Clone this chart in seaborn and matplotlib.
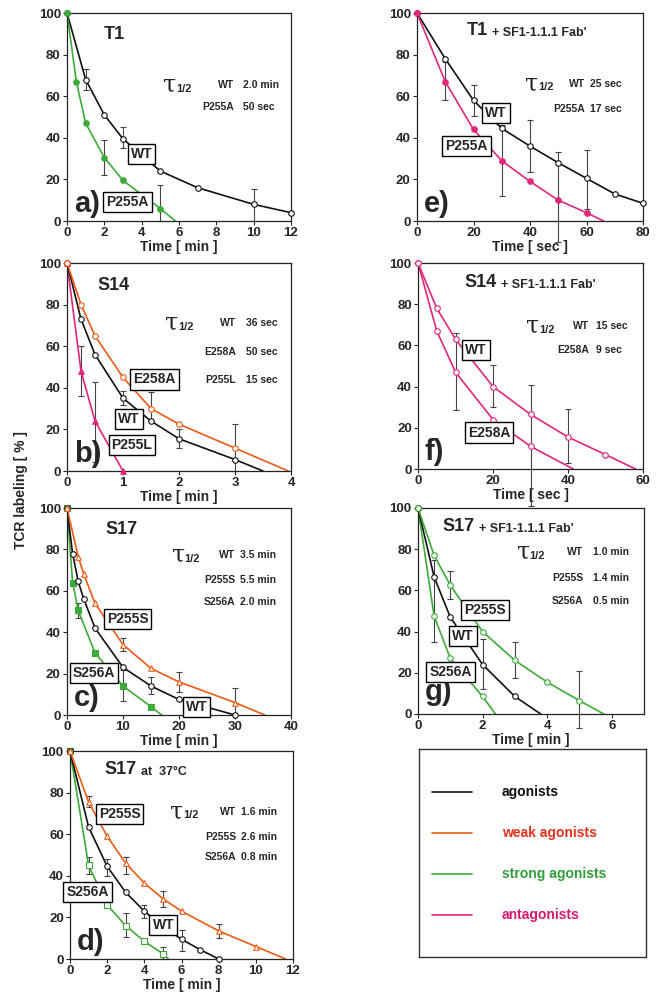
import numpy as np
import matplotlib
matplotlib.use('Agg')
import matplotlib.pyplot as plt
import seaborn as sns

sns.set_style('ticks')
plt.rcParams['font.family'] = ['Liberation Sans', 'DejaVu Sans']
plt.rcParams['font.weight'] = 'bold'

# colours
BLACK = '#111111'
ORANGE = '#ee5a14'
GREEN = '#3daa3a'
MAGENTA = '#e2267a'

# a) T1
a_wt_t = [0, 1, 2, 3, 5, 7, 10, 12]
a_wt_y = [100, 68, 51, 39.5, 24, 16, 8, 4]
a_p255a_t = [0, 0.5, 1, 2, 3, 5]
a_p255a_y = [100, 67, 47, 30.5, 19.5, 6]
a_p255a_end = 5.8
a_err_t = [1, 2, 3, 5, 10]
a_err_lo = [63, 22, 35, 0, 0]
a_err_hi = [73, 39, 45, 17.5, 15.5]
a_tau_names = ['WT', 'P255A']
a_tau_vals = ['2.0 min', '50 sec']

# b) S14
b_wt_t = [0, 0.25, 0.5, 1, 1.5, 2, 3]
b_wt_y = [100, 73, 56, 35, 24, 15.5, 5.5]
b_wt_end = 3.5
b_e258a_t = [0, 0.25, 0.5, 1, 1.5, 2, 3]
b_e258a_y = [100, 80, 65, 45, 30, 22.5, 11]
b_e258a_end = 3.95
b_p255l_t = [0, 0.25, 0.5, 1]
b_p255l_y = [100, 48, 24, 0]
b_err_t = [0.25, 0.5, 1, 1.5, 2, 3]
b_err_lo = [36, 4.5, 31.5, 24, 11, 0]
b_err_hi = [60, 43, 38.5, 38, 20, 22.5]
b_tau_names = ['WT', 'E258A', 'P255L']
b_tau_vals = ['36 sec', '50 sec', '15 sec']

# c) S17
c_wt_t = [0, 1, 2, 3, 5, 10, 15, 20, 30]
c_wt_y = [100, 78, 64.5, 56, 42, 23, 14, 7.5, 0]
c_p255s_t = [0, 2, 3, 5, 10, 15, 20, 30]
c_p255s_y = [100, 76.5, 68, 54, 34, 22.5, 16, 6]
c_p255s_end = 35.3
c_s256a_t = [0, 1, 2, 5, 10, 15]
c_s256a_y = [100, 64, 50.5, 30, 14, 4]
c_s256a_end = 16.9
c_err_t = [2, 10, 10, 15, 20, 30]
c_err_lo = [47, 31, 7, 10, 11, 0]
c_err_hi = [54, 37, 21.5, 18.5, 21, 13]
c_tau_names = ['WT', 'P255S', 'S256A']
c_tau_vals = ['3.5 min', '5.5 min', '2.0 min']

# d) S17 at 37C
d_wt_t = [0, 1, 2, 3, 4, 5, 6, 7, 8]
d_wt_y = [100, 63.5, 44.5, 32, 23, 15.5, 9.5, 4.5, 0]
d_p255s_t = [0, 1, 2, 3, 4, 5, 6, 8, 10]
d_p255s_y = [100, 75.5, 59, 46, 36.5, 29, 23, 13.5, 6]
d_p255s_end = 11.6
d_s256a_t = [0, 1, 2, 3, 4, 5]
d_s256a_y = [100, 45, 26, 16, 8.5, 2.5]
d_s256a_end = 5.3
d_err_t = [1, 1, 2, 3, 3, 4, 5, 5, 6, 8]
d_err_lo = [73, 41, 40, 41, 10.5, 19.5, 25, 0, 4, 10]
d_err_hi = [78.5, 49, 48, 49, 22, 26, 32.5, 6, 14, 17]
d_tau_names = ['WT', 'P255S', 'S256A']
d_tau_vals = ['1.6 min', '2.6 min', '0.8 min']

# e) T1 + Fab'
e_wt_t = [0, 10, 20, 30, 40, 50, 60, 70, 80]
e_wt_y = [100, 78, 58, 44.5, 36, 28, 20.5, 13, 8.5]
e_p255a_t = [0, 10, 20, 30, 40, 50, 60]
e_p255a_y = [100, 67, 44, 29, 19, 10, 4]
e_p255a_end = 66
e_err_t = [10, 20, 30, 40, 50, 60]
e_err_lo = [58, 50.5, 12, 23.5, -10, 6]
e_err_hi = [76.5, 65.5, 46, 48.5, 33, 34]
e_tau_names = ['WT', 'P255A']
e_tau_vals = ['25 sec', '17 sec']

# f) S14 + Fab'
f_wt_t = [0, 5, 10, 20, 30, 40, 50]
f_wt_y = [100, 78, 63, 40, 26.5, 15.5, 7]
f_wt_end = 58
f_e258a_t = [0, 5, 10, 20, 30]
f_e258a_y = [100, 67, 47, 24, 11]
f_e258a_end = 41.4
f_err_t = [10, 20, 30, 40]
f_err_lo = [28.5, 30, -18, 3]
f_err_hi = [66, 50.5, 41, 29]
f_tau_names = ['WT', 'E258A']
f_tau_vals = ['15 sec', '9 sec']

# g) S17 + Fab'
g_wt_t = [0, 0.5, 1, 2, 3]
g_wt_y = [100, 66.5, 47, 24, 8.5]
g_wt_end = 3.8
g_p255s_t = [0, 0.5, 1, 2, 3, 4, 5]
g_p255s_y = [100, 77, 62.5, 40, 26, 15.5, 6.5]
g_p255s_end = 5.75
g_s256a_t = [0, 0.5, 1, 2]
g_s256a_y = [100, 47.5, 27, 8.5]
g_s256a_end = 2.4
g_err_t = [0.5, 1, 2, 3, 5]
g_err_lo = [35, 56, 12, 17.5, -7]
g_err_hi = [75, 69.5, 36.5, 35, 21]
g_tau_names = ['WT', 'P255S', 'S256A']
g_tau_vals = ['1.0 min', '1.4 min', '0.5 min']

legend_labels = ['agonists', 'weak agonists', 'strong agonists', 'antagonists']
legend_colors = [BLACK, ORANGE, GREEN, MAGENTA]
legend_text_colors = [BLACK, '#e6321a', '#2f9e3a', '#d8186e']

fig = plt.figure(figsize=(6.6, 9.92), dpi=100)


def add_ax(l, t, r, b):
    return fig.add_axes([l / 660, 1 - b / 992, (r - l) / 660, (b - t) / 992])


def curve(ax, t, y, end, color, marker, filled):
    xs = list(t) + ([end] if end is not None else [])
    ys = list(y) + ([0] if end is not None else [])
    sns.lineplot(x=xs, y=ys, ax=ax, color=color, lw=1.2, estimator=None,
                 sort=False, legend=False, zorder=2)
    sns.scatterplot(x=t, y=y, ax=ax, marker=marker, s=16,
                    facecolor=color if filled else 'white', edgecolor=color,
                    linewidth=0.8, zorder=3, clip_on=False, legend=False)


def errbars(ax, t, lo, hi):
    lo, hi = np.array(lo, float), np.array(hi, float)
    eb = ax.errorbar(t, (lo + hi) / 2, yerr=(hi - lo) / 2, fmt='none',
                     ecolor='#444444', elinewidth=0.8, capsize=2,
                     capthick=0.8, zorder=1)
    for art in list(eb.lines[1]) + list(eb.lines[2]):
        art.set_clip_on(False)


def style(ax, xmax, xstep, xlabel):
    ax.set_xlim(0, xmax)
    ax.set_ylim(0, 100)
    ax.set_xticks(np.arange(0, xmax + 0.01, xstep))
    ax.set_yticks(range(0, 101, 20))
    ax.tick_params(labelsize=9.5, length=3, width=0.8, pad=1.5)
    for s in ax.spines.values():
        s.set_visible(True)
        s.set_linewidth(0.9)
        s.set_color('#222222')
    ax.set_xlabel(xlabel, fontsize=10, fontweight='bold', labelpad=0.5)
    ax.set_ylabel('')


def title(ax, x, y, main, sub=None):
    t = ax.text(x, y, main, transform=ax.transAxes, fontsize=13,
                fontweight='bold', ha='left', va='baseline')
    if sub:
        ax.annotate(sub, xy=(1, 0), xycoords=t, xytext=(3, 0),
                    textcoords='offset points', fontsize=9,
                    fontweight='bold', va='bottom', ha='left')


def letter(ax, s, y=0.045):
    ax.text(0.03, y, s, transform=ax.transAxes, fontsize=21,
            fontweight='bold', ha='left', va='baseline')


def tau_table(ax, tx, rows, names, vals, name_x, val_x):
    tt = ax.text(tx, rows[0], '\u03c4', transform=ax.transAxes,
                 fontsize=17, family='DejaVu Serif', fontweight='normal',
                 ha='left', va='center')
    ax.annotate('1/2', xy=(1, 0.12), xycoords=tt, fontsize=8,
                fontweight='bold', ha='left', va='bottom')
    for r, n, v in zip(rows, names, vals):
        ax.text(name_x, r, n, transform=ax.transAxes, fontsize=7.5,
                fontweight='bold', ha='right', va='center')
        ax.text(val_x, r, v, transform=ax.transAxes, fontsize=7.5,
                fontweight='bold', ha='left', va='center')


def box(ax, x, y, s):
    ax.text(x, y, s, fontsize=10, fontweight='bold', ha='center',
            va='center', zorder=6,
            bbox=dict(boxstyle='square,pad=0.22', fc='white', ec='black', lw=1.0))


ax_a = add_ax(67, 13, 291, 221)
ax_b = add_ax(67, 263, 291, 471)
ax_c = add_ax(67, 508, 291, 715)
ax_d = add_ax(70, 751, 293, 959)
ax_e = add_ax(417, 13, 643, 221)
ax_f = add_ax(418, 263, 643, 469)
ax_g = add_ax(418, 508, 644, 714)
ax_leg = add_ax(419, 749, 646, 957)

# a
errbars(ax_a, a_err_t, a_err_lo, a_err_hi)
curve(ax_a, a_wt_t, a_wt_y, None, BLACK, 'o', False)
curve(ax_a, a_p255a_t, a_p255a_y, a_p255a_end, GREEN, 'o', True)
style(ax_a, 12, 2, 'Time [ min ]')
title(ax_a, 0.165, 0.876, 'T1')
letter(ax_a, 'a)')
tau_table(ax_a, 0.43, [0.655, 0.547], a_tau_names, a_tau_vals, 0.745, 0.785)
box(ax_a, 4.0, 32, 'WT')
box(ax_a, 3.25, 9.2, 'P255A')

# b
errbars(ax_b, b_err_t, b_err_lo, b_err_hi)
curve(ax_b, b_p255l_t, b_p255l_y, None, MAGENTA, '^', True)
curve(ax_b, b_wt_t, b_wt_y, b_wt_end, BLACK, 'o', False)
curve(ax_b, b_e258a_t, b_e258a_y, b_e258a_end, ORANGE, 'o', False)
style(ax_b, 4, 1, 'Time [ min ]')
title(ax_b, 0.135, 0.868, 'S14')
letter(ax_b, 'b)')
tau_table(ax_b, 0.437, [0.71, 0.574, 0.437], b_tau_names, b_tau_vals, 0.756, 0.8)
box(ax_b, 1.56, 44, 'E258A')
box(ax_b, 1.11, 25, 'WT')
box(ax_b, 1.16, 12.4, 'P255L')

# c
errbars(ax_c, c_err_t, c_err_lo, c_err_hi)
curve(ax_c, c_s256a_t, c_s256a_y, c_s256a_end, GREEN, 's', True)
curve(ax_c, c_wt_t, c_wt_y, None, BLACK, 'o', False)
curve(ax_c, c_p255s_t, c_p255s_y, c_p255s_end, ORANGE, '^', False)
style(ax_c, 40, 10, 'Time [ min ]')
title(ax_c, 0.17, 0.876, 'S17')
letter(ax_c, 'c)')
tau_table(ax_c, 0.467, [0.774, 0.653, 0.544], c_tau_names, c_tau_vals, 0.75, 0.774)
box(ax_c, 10.8, 46.3, 'P255S')
box(ax_c, 4.8, 20.5, 'S256A')
box(ax_c, 23.1, 4, 'WT')

# d
errbars(ax_d, d_err_t, d_err_lo, d_err_hi)
curve(ax_d, d_s256a_t, d_s256a_y, d_s256a_end, GREEN, 's', False)
curve(ax_d, d_wt_t, d_wt_y, None, BLACK, 'o', False)
curve(ax_d, d_p255s_t, d_p255s_y, d_p255s_end, ORANGE, '^', False)
style(ax_d, 12, 2, 'Time [ min ]')
title(ax_d, 0.155, 0.888, 'S17', 'at  37\u00b0C')
letter(ax_d, 'd)')
tau_table(ax_d, 0.45, [0.708, 0.588, 0.489], d_tau_names, d_tau_vals, 0.745, 0.768)
box(ax_d, 2.67, 69.7, 'P255S')
box(ax_d, 0.94, 32, 'S256A')
box(ax_d, 5.02, 16.3, 'WT')

# e
errbars(ax_e, e_err_t, e_err_lo, e_err_hi)
curve(ax_e, e_wt_t, e_wt_y, None, BLACK, 'o', False)
curve(ax_e, e_p255a_t, e_p255a_y, e_p255a_end, MAGENTA, 'o', True)
style(ax_e, 80, 20, 'Time [ sec ]')
title(ax_e, 0.218, 0.895, 'T1', "+ SF1-1.1.1 Fab'")
letter(ax_e, 'e)')
tau_table(ax_e, 0.48, [0.66, 0.54], e_tau_names, e_tau_vals, 0.742, 0.765)
box(ax_e, 28, 52, 'WT')
box(ax_e, 17.5, 36, 'P255A')

# f
errbars(ax_f, f_err_t, f_err_lo, f_err_hi)
curve(ax_f, f_wt_t, f_wt_y, f_wt_end, MAGENTA, 'o', False)
curve(ax_f, f_e258a_t, f_e258a_y, f_e258a_end, MAGENTA, 'o', False)
style(ax_f, 60, 20, 'Time [ sec ]')
title(ax_f, 0.207, 0.884, 'S14', "+ SF1-1.1.1 Fab'")
letter(ax_f, 'f)')
tau_table(ax_f, 0.48, [0.694, 0.58], f_tau_names, f_tau_vals, 0.76, 0.79)
box(ax_f, 15.5, 57.6, 'WT')
box(ax_f, 19, 17.7, 'E258A')

# g
errbars(ax_g, g_err_t, g_err_lo, g_err_hi)
curve(ax_g, g_s256a_t, g_s256a_y, g_s256a_end, GREEN, 'o', False)
curve(ax_g, g_wt_t, g_wt_y, g_wt_end, BLACK, 'o', False)
curve(ax_g, g_p255s_t, g_p255s_y, g_p255s_end, GREEN, 'o', False)
style(ax_g, 7, 2, 'Time [ min ]')
title(ax_g, 0.11, 0.887, 'S17', "+ SF1-1.1.1 Fab'")
letter(ax_g, 'g)', y=0.07)
tau_table(ax_g, 0.436, [0.785, 0.66, 0.55], g_tau_names, g_tau_vals, 0.73, 0.775)
box(ax_g, 2.07, 50.6, 'P255S')
box(ax_g, 1.4, 37.7, 'WT')
box(ax_g, 1.0, 20.2, 'S256A')

# legend box
ax_leg.set_xticks([])
ax_leg.set_yticks([])
ax_leg.set_xlim(0, 1)
ax_leg.set_ylim(0, 1)
for s in ax_leg.spines.values():
    s.set_visible(True)
    s.set_linewidth(1.0)
    s.set_color('#333333')
for i, (lab, lc, tc) in enumerate(zip(legend_labels, legend_colors, legend_text_colors)):
    yy = 0.793 - i * 0.197
    ax_leg.plot([0.057, 0.233], [yy, yy], color=lc, lw=1.2)
    ax_leg.text(0.366, yy, lab, color=tc, fontsize=10, fontweight='bold',
                ha='left', va='center')

fig.text(21 / 660, 1 - 490 / 992, 'TCR labeling [ % ]', rotation=90,
         fontsize=10, fontweight='bold', ha='center', va='center')

fig.savefig('out.png', dpi=100)
